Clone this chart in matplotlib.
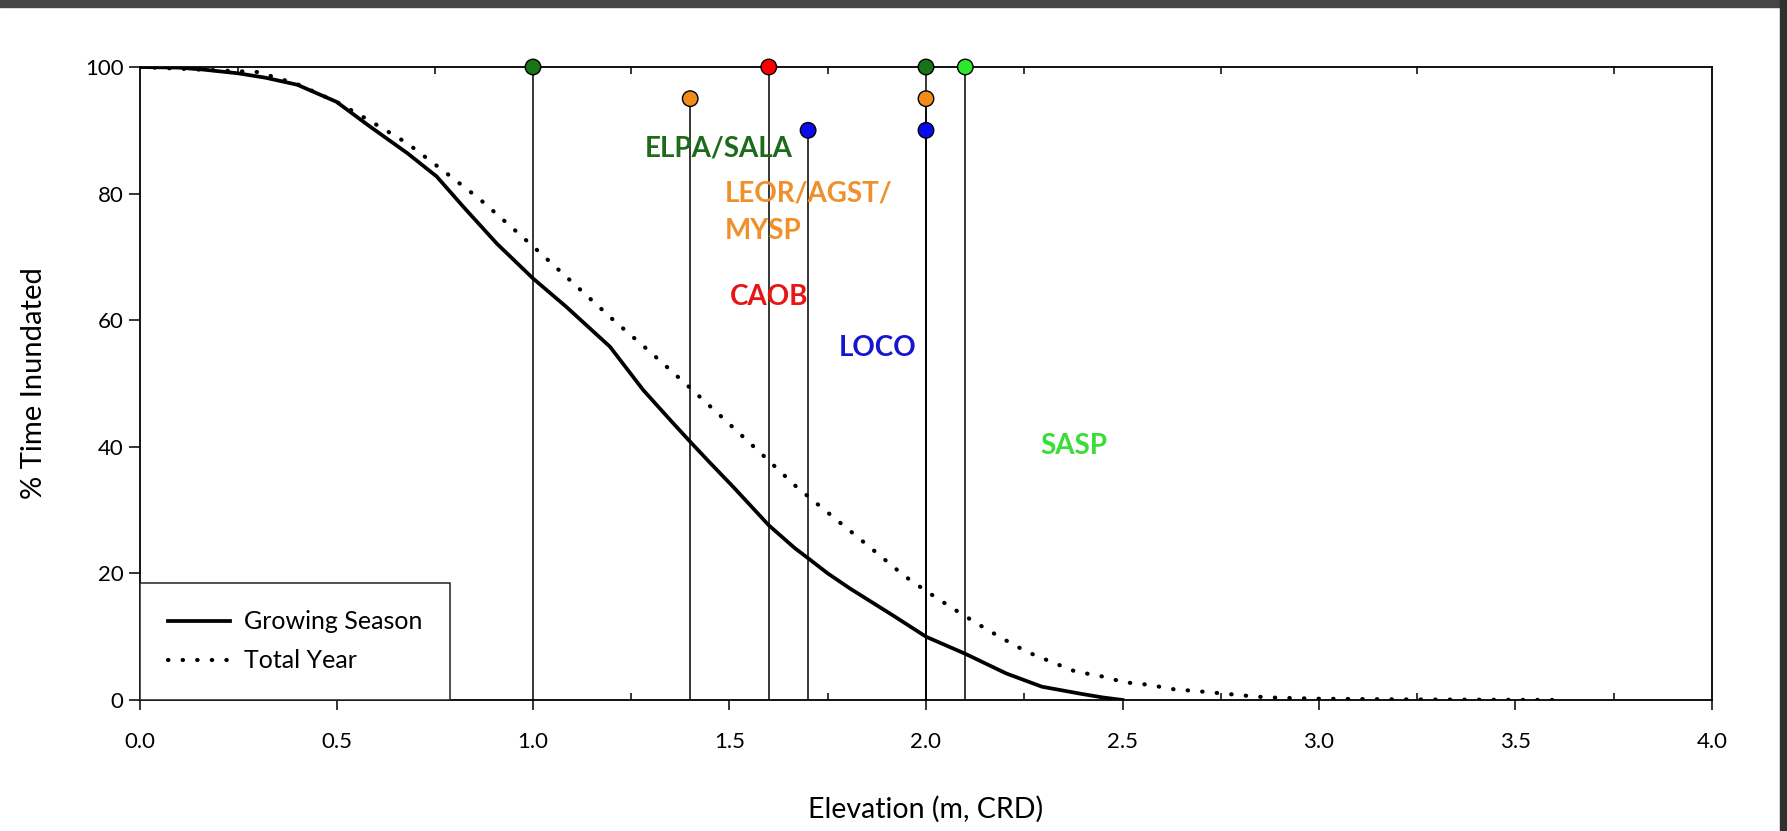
import numpy as np
import matplotlib.pyplot as plt
from matplotlib.patches import Rectangle
from matplotlib.ticker import MultipleLocator

plt.rcParams['font.family'] = ['Lato', 'DejaVu Sans']

# growing season inundation curve
gs_elev = [0.0, 0.1, 0.16, 0.25, 0.32, 0.4, 0.5, 0.585, 0.68, 0.755, 0.823, 0.908,
           1.0, 1.085, 1.196, 1.28, 1.357, 1.4, 1.45, 1.509, 1.6, 1.666, 1.7, 1.75,
           1.807, 1.92, 2.0, 2.1, 2.204, 2.295, 2.397, 2.45, 2.5]
gs_pct = [100, 99.9, 99.6, 99.0, 98.3, 97.2, 94.5, 90.6, 86.4, 82.7, 77.9, 72.1,
          66.6, 62.1, 55.8, 49.0, 43.7, 40.8, 37.5, 33.7, 27.6, 24.0, 22.4, 20.0,
          17.6, 13.2, 10.0, 7.3, 4.2, 2.1, 0.95, 0.4, 0.0]

# total year inundation curve
ty_elev = [0.0, 0.3, 0.4, 0.5, 0.585, 0.679, 0.772, 0.865, 0.958, 1.019, 1.112,
           1.205, 1.298, 1.391, 1.484, 1.576, 1.67, 1.762, 1.856, 1.945, 2.008,
           2.07, 2.132, 2.195, 2.257, 2.318, 2.38, 2.443, 2.505, 2.567, 2.63,
           2.69, 2.752, 2.81, 2.87, 3.0, 3.2, 3.4, 3.6]
ty_pct = [100, 99.2, 97.3, 94.5, 91.5, 88.0, 83.6, 79.1, 74.0, 70.6, 65.3,
          60.0, 55.0, 49.8, 44.5, 39.2, 33.7, 29.0, 24.2, 19.6, 16.9,
          14.4, 12.0, 9.7, 7.6, 6.05, 4.5, 3.8, 2.8, 2.4, 1.7,
          1.4, 1.05, 0.7, 0.4, 0.2, 0.1, 0.05, 0.0]

# species elevation markers
sp_elev = [1.0, 1.4, 1.6, 1.7, 2.0, 2.0, 2.0, 2.1]
sp_pct = [100, 95, 100, 90, 100, 95, 90, 100]
sp_color = ['#177517', '#f28a1c', '#ff0000', '#0a0af0', '#177517', '#f28a1c', '#0a0af0', '#2ee82e']

# species labels
lab_text = ['ELPA/SALA', 'LEOR/AGST/\nMYSP', 'CAOB', 'LOCO', 'SASP']
lab_x = [1.285, 1.488, 1.50, 1.778, 2.29]
lab_y = [87.2, 77.0, 63.7, 55.6, 40.2]
lab_color = ['#1b6b1b', '#f0902a', '#e81515', '#1515d0', '#38dd38']

fig = plt.figure(figsize=(17.87, 8.31), dpi=100)
fig.patches.append(Rectangle((0, 1 - 7 / 831), 1, 7 / 831, transform=fig.transFigure,
                             color='#454545', zorder=0))
fig.patches.append(Rectangle((1 - 7 / 1787, 0), 7 / 1787, 1, transform=fig.transFigure,
                             color='#303030', zorder=0))

ax = fig.add_axes([140 / 1787, 1 - 700 / 831, 1572 / 1787, 633 / 831])

ax.vlines(sp_elev, 0, sp_pct, color='black', lw=1.1, zorder=2)
ax.plot(gs_elev, gs_pct, color='black', lw=2.7, label='Growing Season', zorder=3)
ax.plot(ty_elev, ty_pct, color='black', lw=3.0, linestyle=(0, (0.1, 3.4)),
        dash_capstyle='round', label='Total Year', zorder=3)
ax.scatter(sp_elev, sp_pct, s=125, c=sp_color, edgecolors='black', linewidths=1,
           zorder=5, clip_on=False)

for t, x, y, c in zip(lab_text, lab_x, lab_y, lab_color):
    ax.text(x, y, t, color=c, fontsize=20, fontweight='bold', ha='left', va='center',
            linespacing=1.55)

ax.set_xlim(0, 4.0)
ax.set_ylim(0, 100)
ax.xaxis.set_major_locator(MultipleLocator(0.5))
ax.xaxis.set_minor_locator(MultipleLocator(0.25))
ax.xaxis.set_major_formatter('{x:.1f}')
ax.yaxis.set_major_locator(MultipleLocator(20))
ax.tick_params(axis='x', which='major', direction='out', length=7, width=1.1,
               labelsize=16, pad=16)
ax.tick_params(axis='x', which='minor', direction='in', length=5, width=1.1,
               top=True, bottom=True)
ax.tick_params(axis='y', which='major', direction='out', length=8, width=1.1,
               labelsize=16, pad=4)
for s in ax.spines.values():
    s.set_linewidth(1.3)

ax.set_xlabel('Elevation (m, CRD)', fontsize=20.5, va='center')
ax.set_ylabel('% Time Inundated', fontsize=21, va='center')
ax.xaxis.set_label_coords(0.5, -0.172)
ax.yaxis.set_label_coords(-0.0674, 0.5)

leg = ax.legend(loc='lower left', fontsize=18, borderaxespad=0, fancybox=False,
                framealpha=1, edgecolor='#222222', handlelength=2.5, handletextpad=0.55,
                borderpad=1.1, labelspacing=0.65)
leg.get_frame().set_linewidth(1.1)
leg.set_zorder(4)

fig.savefig('out.png', dpi=100)
